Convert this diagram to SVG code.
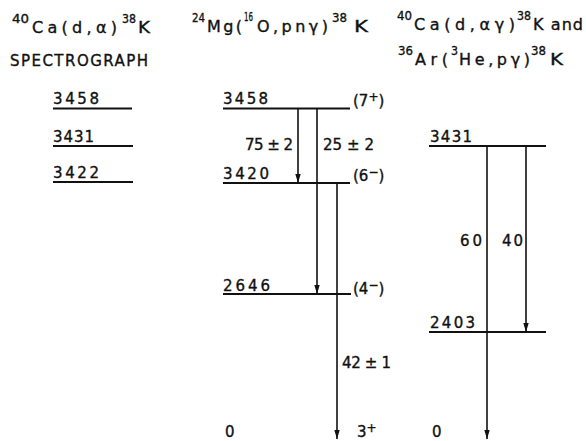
<svg xmlns="http://www.w3.org/2000/svg" width="586" height="441" viewBox="0 0 586 441">
<defs>
<style>
text{font-family:"DejaVu Sans","Liberation Sans",Arial,sans-serif;fill:#111;stroke:#111;stroke-width:0.35;}
.t{font-size:16px;}
.s{font-size:12px;}
.n{font-size:15px;}
.lvl{stroke:#111;stroke-width:2;fill:none;}
.tr{stroke:#111;stroke-width:1.6;fill:none;}
</style>
<marker id="arr" viewBox="0 0 10 6" refX="10" refY="3" markerWidth="9" markerHeight="6" markerUnits="userSpaceOnUse" orient="auto">
<path d="M0,0 L10,3 L0,6 Z" fill="#111"/>
</marker>
</defs>

<g id="titles">
<text class="s" x="12" y="23" textLength="17" lengthAdjust="spacingAndGlyphs">40</text>
<text class="t" x="32" y="33" textLength="85" lengthAdjust="spacing">Ca(d,α)</text>
<text class="s" x="122" y="23" textLength="14" lengthAdjust="spacingAndGlyphs">38</text>
<text class="t" x="138" y="33" textLength="12" lengthAdjust="spacingAndGlyphs">K</text>
<text class="n" x="10" y="65.5" textLength="138" lengthAdjust="spacing">SPECTROGRAPH</text>

<text class="s" x="192" y="22" textLength="13" lengthAdjust="spacingAndGlyphs">24</text>
<text class="t" x="207" y="32" textLength="35" lengthAdjust="spacing">Mg(</text>
<text class="s" x="244" y="21" textLength="9" lengthAdjust="spacingAndGlyphs">16</text>
<text class="t" x="257" y="32" textLength="71" lengthAdjust="spacing">O,pnγ)</text>
<text class="s" x="332" y="22" textLength="15" lengthAdjust="spacingAndGlyphs">38</text>
<text class="t" x="354" y="32" textLength="14" lengthAdjust="spacingAndGlyphs">K</text>

<text class="s" x="397" y="20" textLength="15" lengthAdjust="spacingAndGlyphs">40</text>
<text class="t" x="414" y="30" textLength="101" lengthAdjust="spacing">Ca(d,αγ)</text>
<text class="s" x="517" y="20" textLength="14" lengthAdjust="spacingAndGlyphs">38</text>
<text class="t" x="533" y="30" textLength="50" lengthAdjust="spacing">K and</text>

<text class="s" x="398" y="55" textLength="15" lengthAdjust="spacingAndGlyphs">36</text>
<text class="t" x="415" y="65" textLength="33" lengthAdjust="spacing">Ar(</text>
<text class="s" x="451" y="55" textLength="7" lengthAdjust="spacingAndGlyphs">3</text>
<text class="t" x="459" y="65" textLength="71" lengthAdjust="spacing">He,pγ)</text>
<text class="s" x="531" y="55" textLength="15" lengthAdjust="spacingAndGlyphs">38</text>
<text class="t" x="550" y="65" textLength="13" lengthAdjust="spacingAndGlyphs">K</text>
</g>

<g id="spectrograph">
<g id="s3458"><text class="n" x="53" y="104" textLength="46" lengthAdjust="spacing">3458</text><line class="lvl" x1="53" y1="108.5" x2="132" y2="108.5"/></g>
<g id="s3431"><text class="n" x="53" y="142" textLength="41" lengthAdjust="spacing">3431</text><line class="lvl" x1="53" y1="146" x2="133" y2="146"/></g>
<g id="s3422"><text class="n" x="53" y="178" textLength="46" lengthAdjust="spacing">3422</text><line class="lvl" x1="53" y1="182" x2="133" y2="182"/></g>
</g>

<g id="mg-scheme">
<g id="m3458"><text class="n" x="223" y="104" textLength="45" lengthAdjust="spacing">3458</text><line class="lvl" x1="223" y1="108.5" x2="350" y2="108.5"/><text class="n" x="353" y="106">(7<tspan class="s" dy="-5">+</tspan><tspan dy="5">)</tspan></text></g>
<g id="m3420"><text class="n" x="223" y="179" textLength="46" lengthAdjust="spacing">3420</text><line class="lvl" x1="223" y1="183" x2="350" y2="183"/><text class="n" x="353" y="181">(6<tspan class="s" dy="-5">−</tspan><tspan dy="5">)</tspan></text></g>
<g id="m2646"><text class="n" x="223" y="291" textLength="47" lengthAdjust="spacing">2646</text><line class="lvl" x1="223" y1="294" x2="351" y2="294"/><text class="n" x="353" y="294">(4<tspan class="s" dy="-5">−</tspan><tspan dy="5">)</tspan></text></g>
<g id="m0"><text class="n" x="225" y="437">0</text><text class="n" x="357" y="437">3<tspan class="s" dy="-5">+</tspan></text></g>
</g>

<g id="ar-scheme">
<g id="r3431"><text class="n" x="430" y="142" textLength="42" lengthAdjust="spacing">3431</text><line class="lvl" x1="429" y1="146" x2="546" y2="146"/></g>
<g id="r2403"><text class="n" x="430" y="328" textLength="45" lengthAdjust="spacing">2403</text><line class="lvl" x1="429" y1="332" x2="546" y2="332"/></g>
<g id="r0"><text class="n" x="432" y="437">0</text></g>
</g>

<g id="connectors">
<line class="tr" x1="298" y1="109" x2="298" y2="183" marker-end="url(#arr)"/>
<line class="tr" x1="317" y1="109" x2="317" y2="294" marker-end="url(#arr)"/>
<line class="tr" x1="337" y1="183" x2="337" y2="439" marker-end="url(#arr)"/>
<line class="tr" x1="487" y1="146" x2="487" y2="439" marker-end="url(#arr)"/>
<line class="tr" x1="526" y1="146" x2="526" y2="332" marker-end="url(#arr)"/>
<text class="n" x="245" y="150" textLength="48" lengthAdjust="spacing">75 ± 2</text>
<text class="n" x="323" y="150" textLength="51" lengthAdjust="spacing">25 ± 2</text>
<text class="n" x="342" y="368" textLength="49" lengthAdjust="spacing">42 ± 1</text>
<text class="n" x="460" y="246" textLength="22" lengthAdjust="spacing">60</text>
<text class="n" x="502" y="246" textLength="21" lengthAdjust="spacing">40</text>
</g>
</svg>
